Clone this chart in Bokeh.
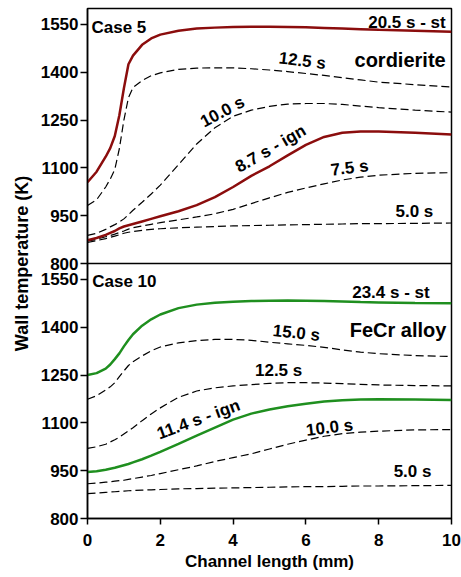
from bokeh.plotting import figure
from bokeh.models import Range1d, FixedTicker, Label, Span
from bokeh.embed import file_html
from bokeh.resources import INLINE

FONT = "Liberation Sans"
RED = "#8b0d0d"
GREEN = "#1f8f1f"

# channel length (mm)
x_mm = [0, 0.25, 0.5, 0.625, 0.75, 0.875, 1.0, 1.125, 1.25, 1.5, 1.75, 2, 2.5, 3, 3.5,
        4, 4.5, 5, 5.5, 6, 6.5, 7, 7.5, 8, 9, 10]

# Case 5 - cordierite (upper panel)
c5_st_20_5 = [1055, 1088, 1135, 1162, 1200, 1265, 1350, 1425, 1452, 1486, 1506, 1518, 1530,
              1537, 1540, 1542, 1543, 1543, 1542, 1541, 1539, 1537, 1535, 1533, 1530, 1527]
c5_12_5 = [982, 1000, 1040, 1065, 1095, 1160, 1250, 1320, 1352, 1374, 1389, 1398, 1409,
           1413, 1414, 1414, 1411, 1407, 1402, 1396, 1390, 1383, 1376, 1369, 1361, 1354]
c5_10_0 = [888, 895, 907, 915, 922, 930, 940, 953, 967, 992, 1018, 1046, 1110,
           1175, 1226, 1262, 1281, 1293, 1300, 1302, 1302, 1299, 1294, 1289, 1281, 1275]
c5_ign_8_7 = [873, 880, 890, 896, 902, 910, 916, 920, 924, 932, 940, 948, 964,
              983, 1008, 1040, 1075, 1105, 1139, 1172, 1197, 1210, 1214, 1214, 1210, 1205]
c5_7_5 = [870, 876, 884, 888, 892, 897, 902, 908, 912, 918, 923, 928, 937,
          946, 956, 970, 988, 1006, 1023, 1037, 1050, 1062, 1071, 1077, 1083, 1085]
c5_5_0 = [866, 872, 878, 882, 886, 890, 895, 898, 900, 904, 907, 909, 912,
          914, 916, 918, 919, 920, 921, 922, 923, 924, 925, 925, 926, 927]

# Case 10 - FeCr alloy (lower panel)
c10_st_23_4 = [1250, 1256, 1270, 1283, 1300, 1318, 1340, 1360, 1378, 1405, 1425, 1440, 1460,
               1471, 1477, 1480, 1482, 1483, 1484, 1483, 1482, 1481, 1479, 1478, 1476, 1475]
c10_15_0 = [1174, 1185, 1203, 1213, 1226, 1245, 1263, 1280, 1292, 1310, 1326, 1338, 1351,
            1358, 1362, 1362, 1359, 1353, 1348, 1343, 1337, 1329, 1322, 1317, 1311, 1308]
c10_12_5 = [1020, 1025, 1033, 1040, 1047, 1055, 1065, 1075, 1085, 1107, 1128, 1147, 1180,
            1200, 1210, 1216, 1220, 1224, 1226, 1226, 1225, 1223, 1221, 1219, 1217, 1216]
c10_ign_11_4 = [946, 948, 953, 956, 959, 963, 967, 971, 976, 986, 997, 1009, 1034,
                1060, 1085, 1110, 1129, 1142, 1152, 1160, 1167, 1171, 1173, 1174, 1173, 1172]
c10_10_0 = [909, 911, 914, 915, 917, 919, 920, 923, 925, 930, 935, 941, 953,
            965, 979, 991, 1003, 1018, 1033, 1046, 1058, 1066, 1071, 1074, 1078, 1079]
c10_5_0 = [878, 880, 882, 883, 884, 885, 886, 887, 888, 889, 890, 891, 893,
           894, 895, 896, 897, 898, 899, 900, 900, 901, 902, 902, 903, 904]

x_ticks = [0, 2, 4, 6, 8, 10]
y_ticks = [800, 950, 1100, 1250, 1400, 1550]
y_min, y_max = 800, 1600          # each panel's temperature range (K)
span = y_max - y_min

# Lower panel uses the default range; the upper panel gets its own range
# so that both panels are stacked inside one frame.
p = figure(width=461, height=577,
           x_range=Range1d(0, 10), y_range=Range1d(y_min, y_max + span),
           toolbar_location=None, output_backend="svg",
           min_border_left=87, min_border_right=10, min_border_top=8, min_border_bottom=59)
p.extra_y_ranges = {"top": Range1d(y_min - span, y_max)}

p.grid.visible = False
p.outline_line_color = "black"
p.outline_line_width = 1.5

# y axis: lower-panel ticks on default range, upper-panel ticks shifted by one panel
upper_pos = [t + span for t in y_ticks]
yax = p.yaxis[0]
yax.ticker = FixedTicker(ticks=y_ticks + upper_pos)
yax.major_label_overrides = {u: str(t) for u, t in zip(upper_pos, y_ticks)}
yax.axis_line_color = "black"
yax.axis_line_width = 1.5
yax.major_tick_out = 7
yax.major_tick_in = 0
yax.major_tick_line_width = 1.5
yax.minor_tick_out = 0
yax.minor_tick_in = 0
yax.major_label_standoff = 2
yax.major_label_text_font = FONT
yax.major_label_text_font_size = "17px"
yax.major_label_text_font_style = "bold"
yax.major_label_text_color = "black"
yax.axis_label = "Wall temperature (K)"
yax.axis_label_standoff = 6
yax.axis_label_text_font = FONT
yax.axis_label_text_font_size = "18px"
yax.axis_label_text_font_style = "bold"
yax.axis_label_text_color = "black"

xax = p.xaxis[0]
xax.ticker = FixedTicker(ticks=x_ticks)
xax.axis_line_color = "black"
xax.axis_line_width = 1.5
xax.major_tick_out = 6
xax.major_tick_in = 0
xax.major_tick_line_width = 1.5
xax.minor_tick_out = 0
xax.minor_tick_in = 0
xax.major_label_standoff = 9
xax.major_label_text_font = FONT
xax.major_label_text_font_size = "17px"
xax.major_label_text_font_style = "bold"
xax.major_label_text_color = "black"
xax.axis_label = "Channel length (mm)"
xax.axis_label_standoff = 3
xax.axis_label_text_font = FONT
xax.axis_label_text_font_size = "17px"
xax.axis_label_text_font_style = "bold"
xax.axis_label_text_color = "black"

# divider between panels
p.add_layout(Span(location=y_min, dimension="width", y_range_name="top",
                  line_color="black", line_width=1.5))

DASH = "8 4"

# upper panel
for ys in [c5_5_0, c5_7_5, c5_10_0, c5_12_5]:
    p.line(x_mm, ys, line_color="black", line_width=1.2, line_dash=DASH, y_range_name="top")
p.line(x_mm, c5_ign_8_7, line_color=RED, line_width=2.5, y_range_name="top")
p.line(x_mm, c5_st_20_5, line_color=RED, line_width=2.5, y_range_name="top")

# lower panel
for ys in [c10_5_0, c10_10_0, c10_12_5, c10_15_0]:
    p.line(x_mm, ys, line_color="black", line_width=1.2, line_dash=DASH)
p.line(x_mm, c10_ign_11_4, line_color=GREEN, line_width=2.5)
p.line(x_mm, c10_st_23_4, line_color=GREEN, line_width=2.5)


def lab(x, y, text, size="17px", angle=0, align="center", baseline="middle", rng="default"):
    p.add_layout(Label(x=x, y=y, text=text, angle=angle, angle_units="deg",
                       text_align=align, text_baseline=baseline, y_range_name=rng,
                       text_font=FONT, text_font_size=size,
                       text_font_style="bold", text_color="black"))


lab(0.11, 1539, "Case 5", align="left", baseline="alphabetic", rng="top")
lab(9.84, 1556, "20.5 s - st", align="right", baseline="alphabetic", rng="top")
lab(9.84, 1440, "cordierite", size="20px", align="right", baseline="alphabetic", rng="top")
lab(5.9, 1436, "12.5 s", angle=-7, rng="top")
lab(3.71, 1276, "10.0 s", angle=28, rng="top")
lab(5.03, 1160, "8.7 s - ign", angle=30, rng="top")
lab(7.2, 1100, "7.5 s", angle=7, rng="top")
lab(8.98, 962, "5.0 s", rng="top")

lab(0.13, 1543, "Case 10", align="left", baseline="alphabetic")
lab(9.4, 1509, "23.4 s - st", align="right", baseline="alphabetic")
lab(9.86, 1390, "FeCr alloy", size="20px", align="right", baseline="alphabetic")
lab(5.74, 1382, "15.0 s", angle=-6)
lab(5.25, 1265, "12.5 s")
lab(3.05, 1111, "11.4 s - ign", angle=20)
lab(6.65, 1085, "10.0 s", angle=7)
lab(8.93, 947, "5.0 s")

open("out.html", "w").write(file_html(p, INLINE))
